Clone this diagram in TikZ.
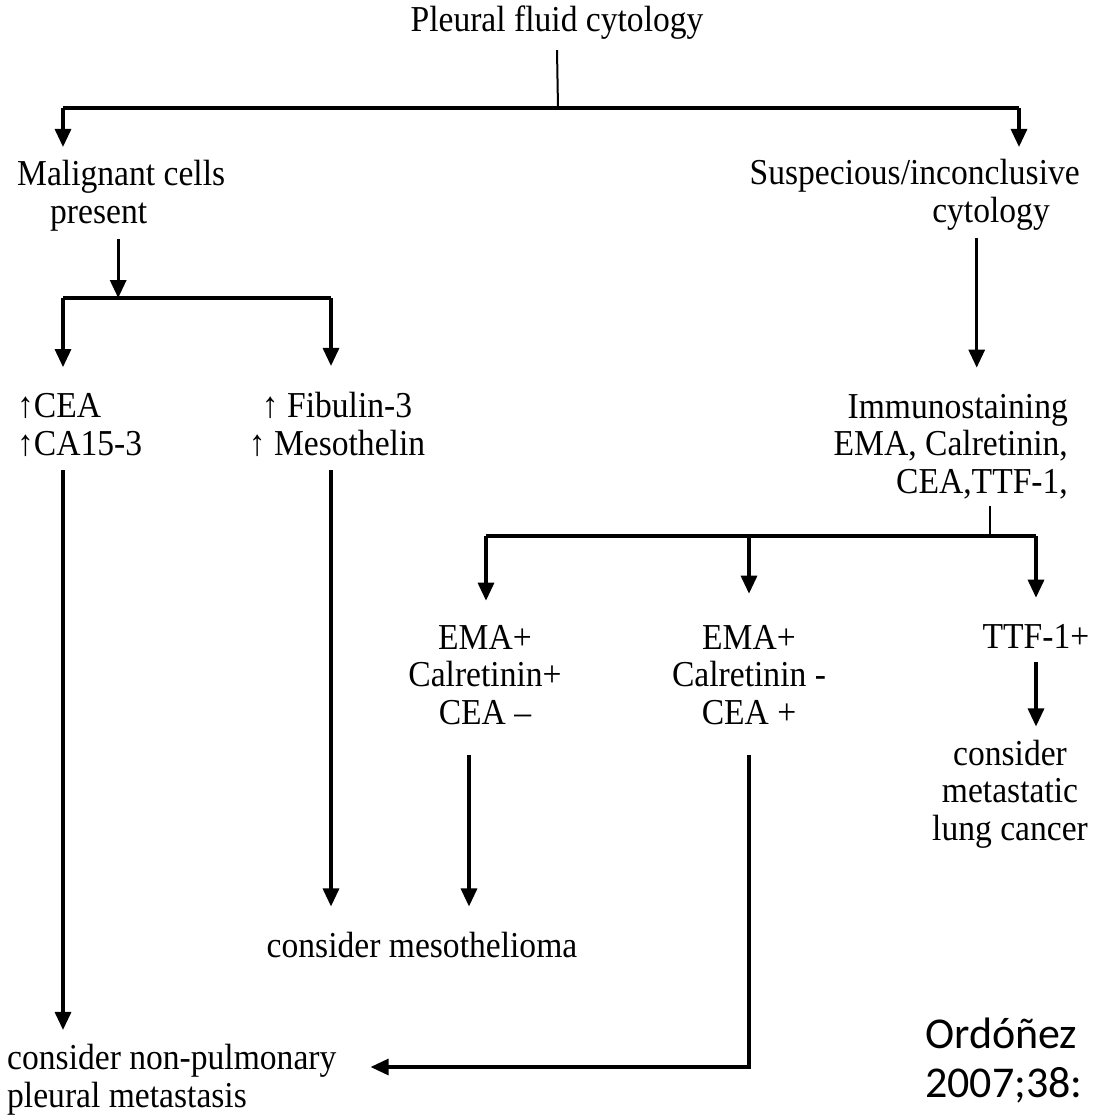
\documentclass[tikz,border=0pt]{standalone}
\usepackage{fontspec}
\setmainfont{Liberation Serif}[FakeStretch=0.92]
\newfontfamily\reffont{Carlito}
\usepackage{tikz}
\usetikzlibrary{positioning,calc,arrows.meta}

\tikzset{
    lbl/.style={font=\fontsize{36.5}{37.5}\selectfont, inner sep=0pt, anchor=base},
    arr/.style={line width=3.2pt, -{Triangle[width=16pt,length=18pt]}},
    bar/.style={line width=3.8pt},
    thinline/.style={line width=2pt}
}

\begin{document}
\begin{tikzpicture}[x=1pt, y=-1pt]
    \useasboundingbox (0,0) rectangle (1094,1116);

    % Texts (base = last line)
    \node[lbl] (title) at (557,32) {Pleural fluid cytology};
    \node[lbl, anchor=base west, align=left] (malig) at (17,223) {Malignant cells\\\hspace*{33pt}present};
    \node[lbl, anchor=base east, align=right] (susp) at (1080,222) {Suspecious/inconclusive\\cytology\hspace*{30pt}};
    \node[lbl, anchor=base west, align=left] (cea) at (17,455) {↑CEA\\↑CA15-3};
    \node[lbl, align=center] (fib) at (337,455) {↑ Fibulin-3\\↑ Mesothelin};
    \node[lbl, anchor=base east, align=right] (immuno) at (1068,493) {Immunostaining\\EMA, Calretinin,\\CEA,TTF-1,};
    \node[lbl, align=center] (emaA) at (485,724) {EMA+\\Calretinin+\\CEA –};
    \node[lbl, align=center] (emaB) at (749,724) {EMA+\\Calretinin -\\CEA +};
    \node[lbl] (ttf) at (1036,648) {TTF-1+};
    \node[lbl, align=center] (lung) at (1010,840) {consider\\metastatic\\lung cancer};
    \node[lbl] (meso) at (422,957) {consider mesothelioma};
    \node[lbl, anchor=base west, align=left] (nonpulm) at (7,1107) {consider non-pulmonary\\pleural metastasis};
    \node[lbl, anchor=base west, align=left, font=\reffont\fontsize{44}{49}\selectfont] (ref) at (925,1097) {Ordóñez\\2007;38:};

    % Junctions
    \coordinate (top) at (558,108); \coordinate (tl) at (63,108); \coordinate (tr) at (1019,108);
    \coordinate (ml) at (63,298); \coordinate (mr) at (331,298);
    \coordinate (j3) at (990,536); \coordinate (il) at (486,536); \coordinate (ir) at (1036,536);

    % First split
    \draw[thinline] ([yshift=-10pt]title.south) -- (top);
    \draw[bar] (tl) -- (tr);
    \draw[arr, shorten >=13pt] (tl) -- (tl |- malig.north);
    \draw[arr, shorten >=12pt] (tr) -- (tr |- susp.north);

    % Malignant branch
    \draw[arr, shorten <=8pt] ([xshift=-3pt]malig.south) -- ([xshift=-3pt]malig.south |- ml);
    \draw[bar] (ml) -- (mr);
    \draw[arr, shorten >=26pt] (ml) -- (ml |- cea.north);
    \draw[arr, shorten >=26pt] (mr) -- (mr |- fib.north);
    \draw[arr, shorten <=14pt, shorten >=14pt] (ml |- cea.south) -- (ml |- nonpulm.north);
    \draw[arr, shorten <=14pt, shorten >=25pt] (mr |- fib.south) -- (mr |- meso.north);

    % Suspicious branch
    \draw[arr, shorten <=8pt, shorten >=26pt] ([xshift=62pt]susp.south) -- ([xshift=62pt]susp.south |- immuno.north);
    \draw[thinline, shorten <=7pt] (immuno.south -| j3) -- (j3);
    \draw[bar] (il) -- (ir);
    \draw[arr, shorten >=24pt] (il) -- (il |- emaA.north);
    \draw[arr, shorten >=31pt] (emaB |- il) -- (emaB.north);
    \draw[arr, shorten >=26pt] (ir) -- (ir |- ttf.north);
    \draw[arr, shorten <=14pt, shorten >=13pt] (ttf.south) -- (ttf.south |- lung.north);
    \draw[arr, shorten <=30pt, shorten >=25pt] ([xshift=-16pt]emaA.south) -- ([xshift=-16pt]emaA.south |- meso.north);
    \draw[arr, shorten <=30pt, shorten >=34pt] (emaB.south) -- ([yshift=40pt]emaB.south |- nonpulm.base east) -- ([yshift=40pt]nonpulm.base east);
\end{tikzpicture}
\end{document}
